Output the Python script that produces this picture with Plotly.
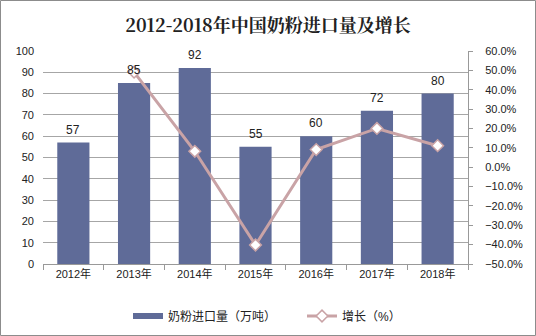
import plotly.graph_objects as go

years = ["2012年", "2013年", "2014年", "2015年", "2016年", "2017年", "2018年"]
imports = [57, 85, 92, 55, 60, 72, 80]          # 奶粉进口量（万吨）
growth_years = years[1:]
growth = [49.1, 8.2, -40.2, 9.1, 20.0, 11.1]      # 增长（%）

bar_color = "#5f6b98"
line_color = "#c9a3a6"
font_family = "Liberation Sans, Arial, Noto Sans CJK SC, sans-serif"

W, H = 536, 336
L, R, T, B = 43, 68, 51, 72
PW, PH = W - L - R, H - T - B

fig = go.Figure()

fig.add_trace(go.Bar(
    x=years, y=imports, name="奶粉进口量（万吨）",
    marker=dict(color=bar_color, line=dict(width=0)),
    width=0.53, showlegend=False,
))

# legend entry for the bars, drawn as a thick line swatch
fig.add_trace(go.Scatter(
    x=[None], y=[None], name="奶粉进口量（万吨）", mode="lines",
    line=dict(color=bar_color, width=6), legend="legend",
))

fig.add_trace(go.Scatter(
    x=growth_years, y=growth, name="增长（%）", yaxis="y2",
    mode="lines+markers",
    line=dict(color=line_color, width=3),
    marker=dict(symbol="diamond", size=9, color="white",
                line=dict(color=line_color, width=1.5)),
    legend="legend2",
))

# value labels above the bars
for x, v in zip(years, imports):
    fig.add_annotation(x=x, y=v, text=str(v), showarrow=False,
                       yanchor="bottom", yshift=4,
                       font=dict(size=12, color="#222222", family=font_family))

legend_style = dict(orientation="h", xref="container", yref="container",
                    xanchor="left", yanchor="middle", y=20 / H,
                    font=dict(size=12), itemwidth=30, bgcolor="rgba(0,0,0,0)")

fig.update_layout(
    width=W, height=H,
    margin=dict(l=L, r=R, t=T, b=B, autoexpand=False),
    paper_bgcolor="white", plot_bgcolor="white",
    font=dict(family=font_family, size=11, color="#222222"),
    title=dict(text="<b>2012-2018年中国奶粉进口量及增长</b>",
               x=0.5, xanchor="center", y=0.925, yanchor="middle",
               font=dict(size=18, color="#222222",
                         family="Noto Serif CJK SC, Noto Sans CJK SC, serif")),
    showlegend=True,
    legend=dict(x=128 / W, **legend_style),
    legend2=dict(x=302 / W, **legend_style),
    xaxis=dict(showline=True, linecolor="#999999", linewidth=1,
               ticks="outside", ticklen=5, tickcolor="#999999",
               tickson="boundaries", showgrid=False,
               tickfont=dict(size=11)),
    yaxis=dict(range=[0, 100], dtick=10, showgrid=True, gridcolor="#a6a6a6",
               gridwidth=1, showline=False, zeroline=False, ticks="",
               ticklabelstandoff=8, tickfont=dict(size=11)),
    yaxis2=dict(overlaying="y", side="right", range=[-50, 60], dtick=10,
                tickformat=".1f", ticksuffix="%", showgrid=False, zeroline=False,
                showline=True, linecolor="#999999", ticks="outside", ticklen=4,
                tickcolor="#999999", ticklabelstandoff=10, tickfont=dict(size=11)),
    shapes=[dict(type="rect", xref="paper", yref="paper",
                 x0=-(L - 0.5) / PW, x1=1 + (R - 0.5) / PW,
                 y0=-(B - 0.5) / PH, y1=1 + (T - 0.5) / PH,
                 line=dict(color="#8c8c8c", width=1))],
)

fig.write_html("out.html")
